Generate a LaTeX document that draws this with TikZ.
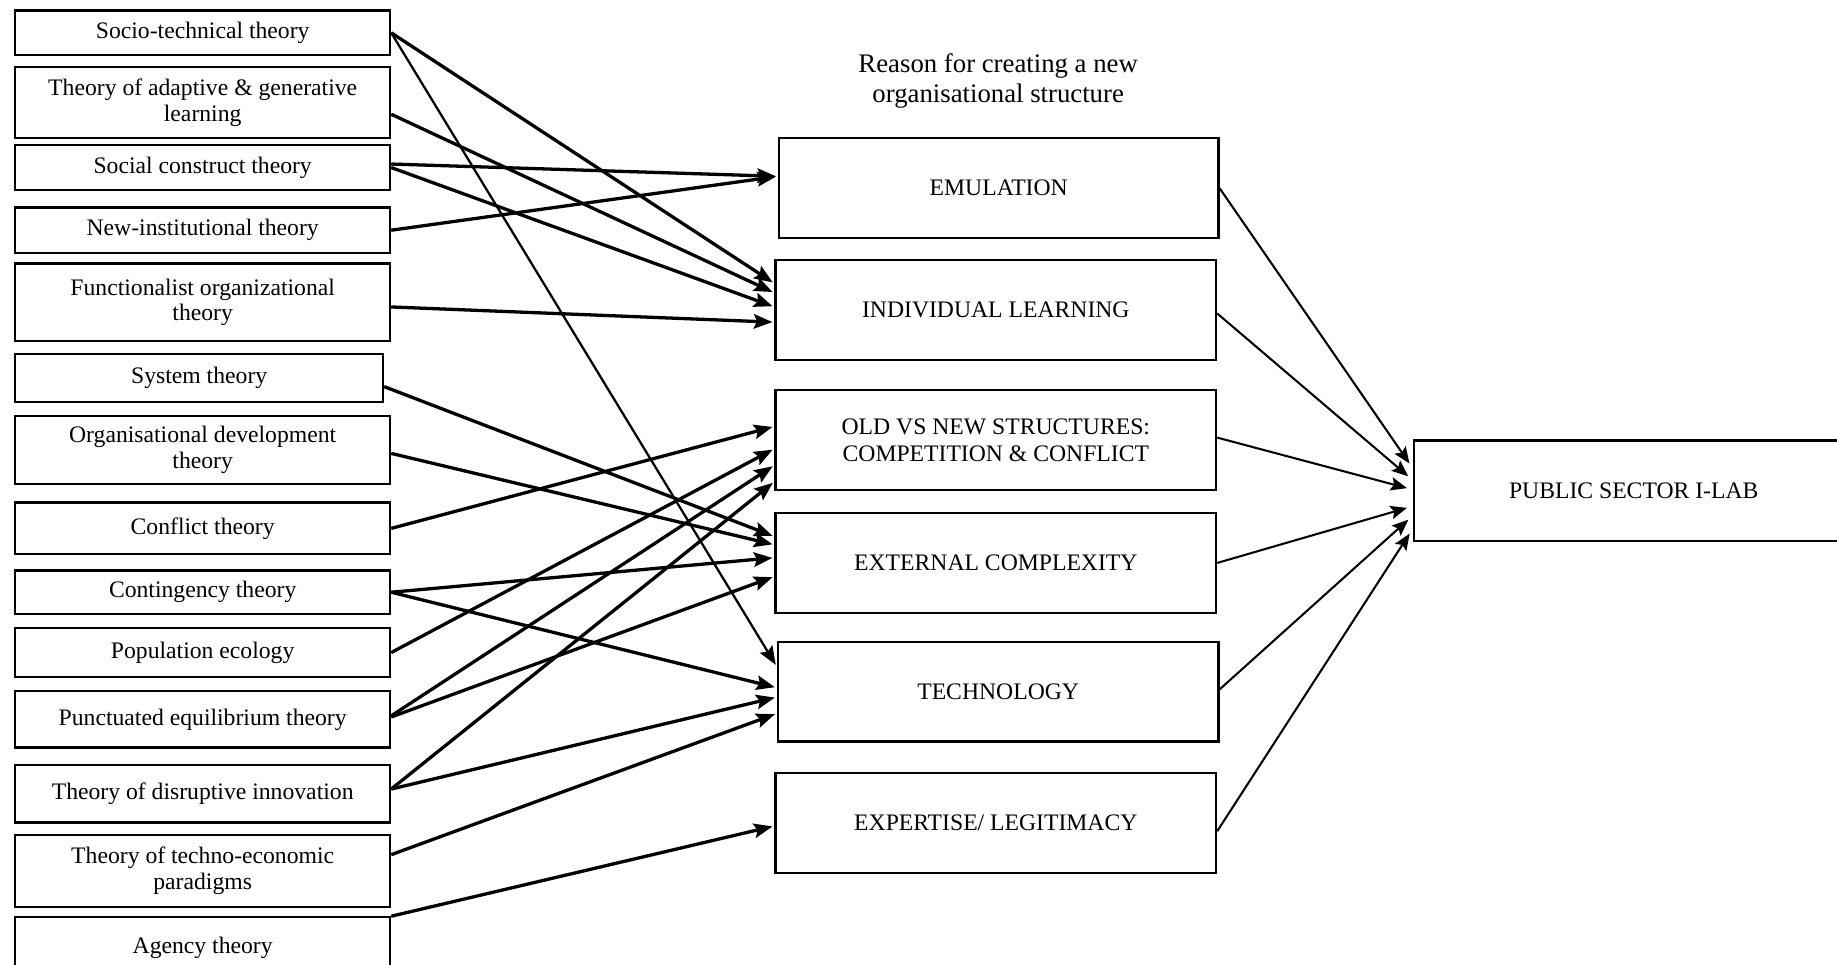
\documentclass[tikz,border=0pt]{standalone}
\usepackage{fontspec}
\setmainfont{Liberation Serif}
\usetikzlibrary{arrows.meta,positioning,calc}

\tikzset{
  theory/.style={draw, line width=1.1pt, minimum width=6.4cm, inner sep=1pt,
    align=center, font=\fontsize{11.5}{12.5}\selectfont},
  reason/.style={draw, line width=1.1pt, minimum width=7.52cm, minimum height=1.7cm,
    align=center, font=\fontsize{11.5}{13}\selectfont},
  link/.style={-{Stealth[length=9pt,width=7pt,inset=1.5pt]}, line width=1.6pt, shorten >=1pt},
  feed/.style={-{Stealth[length=8pt,width=6.5pt,inset=1.5pt]}, line width=1pt, shorten >=3pt}
}

\begin{document}
\begin{tikzpicture}[x=0.02cm, y=-0.02cm]
  % Frame of the picture
  \path[use as bounding box] (0,0) rectangle (1568,823);
  \clip (0,0) rectangle (1568,823);

  % Theory boxes on the left
  \node[theory, minimum height=0.76cm] (socio) at (173,28) {Socio-technical theory};
  \node[theory, minimum height=1.22cm] (adaptive) at (173,87.5) {Theory of adaptive \& generative\\learning};
  \node[theory, minimum height=0.76cm] (social) at (173,143) {Social construct theory};
  \node[theory, minimum height=0.78cm] (newinst) at (173,196.5) {New-institutional theory};
  \node[theory, minimum height=1.32cm] (functional) at (173,258) {Functionalist organizational\\theory};
  \node[theory, minimum height=0.82cm, minimum width=6.28cm] (system) at (170,322.5) {System theory};
  \node[theory, minimum height=1.16cm] (orgdev) at (173,384) {Organisational development\\theory};
  \node[theory, minimum height=0.88cm] (conflict) at (173,451) {Conflict theory};
  \node[theory, minimum height=0.74cm] (contingency) at (173,505.5) {Contingency theory};
  \node[theory, minimum height=0.84cm] (population) at (173,557) {Population ecology};
  \node[theory, minimum height=0.96cm] (punctuated) at (173,614) {Punctuated equilibrium theory};
  \node[theory, minimum height=0.98cm] (disruptive) at (173,677.5) {Theory of disruptive innovation};
  \node[theory, minimum height=1.22cm] (techno) at (173,743.5) {Theory of techno-economic\\paradigms};
  \node[theory, minimum height=1.04cm] (agency) at (173,809) {Agency theory};

  % Reasons in the middle
  \node[font=\fontsize{13}{14.7}\selectfont, align=center] (title) at (852,69)
    {Reason for creating a new\\organisational structure};
  \node[reason, minimum width=7.5cm] (emulation) at (852.5,160.5) {EMULATION};
  \node[reason] (learning) at (850,264.5) {INDIVIDUAL LEARNING};
  \node[reason] (oldnew) at (850,375.5) {OLD VS NEW STRUCTURES:\\COMPETITION \& CONFLICT};
  \node[reason] (external) at (850,480.5) {EXTERNAL COMPLEXITY};
  \node[reason] (technology) at (852,590.5) {TECHNOLOGY};
  \node[reason] (expertise) at (850,702.5) {EXPERTISE/ LEGITIMACY};

  % Outcome on the right
  \node[reason, minimum width=7.5cm, minimum height=1.72cm] (ilab) at (1394.5,419) {PUBLIC SECTOR I-LAB};

  % Theories to reasons
  \draw[link] (socio.east) -- ($(learning.west)+(0,-22.5)$);
  \draw[link, line width=1.1pt] (socio.east) -- ($(technology.west)+(0,-21.5)$);
  \draw[link] ($(adaptive.east)+(0,10)$) -- ($(learning.west)+(0,-14.5)$);
  \draw[link] ($(social.east)+(0,-3)$) -- ($(emulation.west)+(0,-10)$);
  \draw[link] (social.east) -- ($(learning.west)+(0,-2.5)$);
  \draw[link] (newinst.east) -- ($(emulation.west)+(0,-10)$);
  \draw[link] ($(functional.east)+(0,4)$) -- ($(learning.west)+(0,10.5)$);
  \draw[link] ($(system.east)+(0,7.5)$) -- ($(external.west)+(0,-22.5)$);
  \draw[link] ($(orgdev.east)+(0,3)$) -- ($(external.west)+(0,-15.5)$);
  \draw[link] (conflict.east) -- ($(oldnew.west)+(0,-11.5)$);
  \draw[link] (contingency.east) -- ($(external.west)+(0,-4.5)$);
  \draw[link] (contingency.east) -- ($(technology.west)+(0,-3.5)$);
  \draw[link] (population.east) -- ($(oldnew.west)+(0,7.5)$);
  \draw[link] ($(punctuated.east)+(0,-3)$) -- ($(oldnew.west)+(0,21.5)$);
  \draw[link] ($(punctuated.east)+(0,-2)$) -- ($(external.west)+(0,11.5)$);
  \draw[link] ($(disruptive.east)+(0,-4)$) -- ($(oldnew.west)+(0,35.5)$);
  \draw[link] ($(disruptive.east)+(0,-4)$) -- ($(technology.west)+(0,4.5)$);
  \draw[link] ($(techno.east)+(0,-14)$) -- ($(technology.west)+(0,18.5)$);
  \draw[link] (agency.north east) -- ($(expertise.west)+(0,2.5)$);

  % Reasons to outcome
  \draw[feed] (emulation.east) -- ($(ilab.west)+(0,-19)$);
  \draw[feed] ($(learning.east)+(0,3)$) -- ($(ilab.west)+(0,-9)$);
  \draw[feed] ($(oldnew.east)+(0,-2)$) -- ($(ilab.west)+(0,-1)$);
  \draw[feed] (external.east) -- ($(ilab.west)+(0,13)$);
  \draw[feed] ($(technology.east)+(0,-2)$) -- ($(ilab.west)+(0,21)$);
  \draw[feed] ($(expertise.east)+(0,7)$) -- ($(ilab.west)+(0,32)$);
\end{tikzpicture}
\end{document}
